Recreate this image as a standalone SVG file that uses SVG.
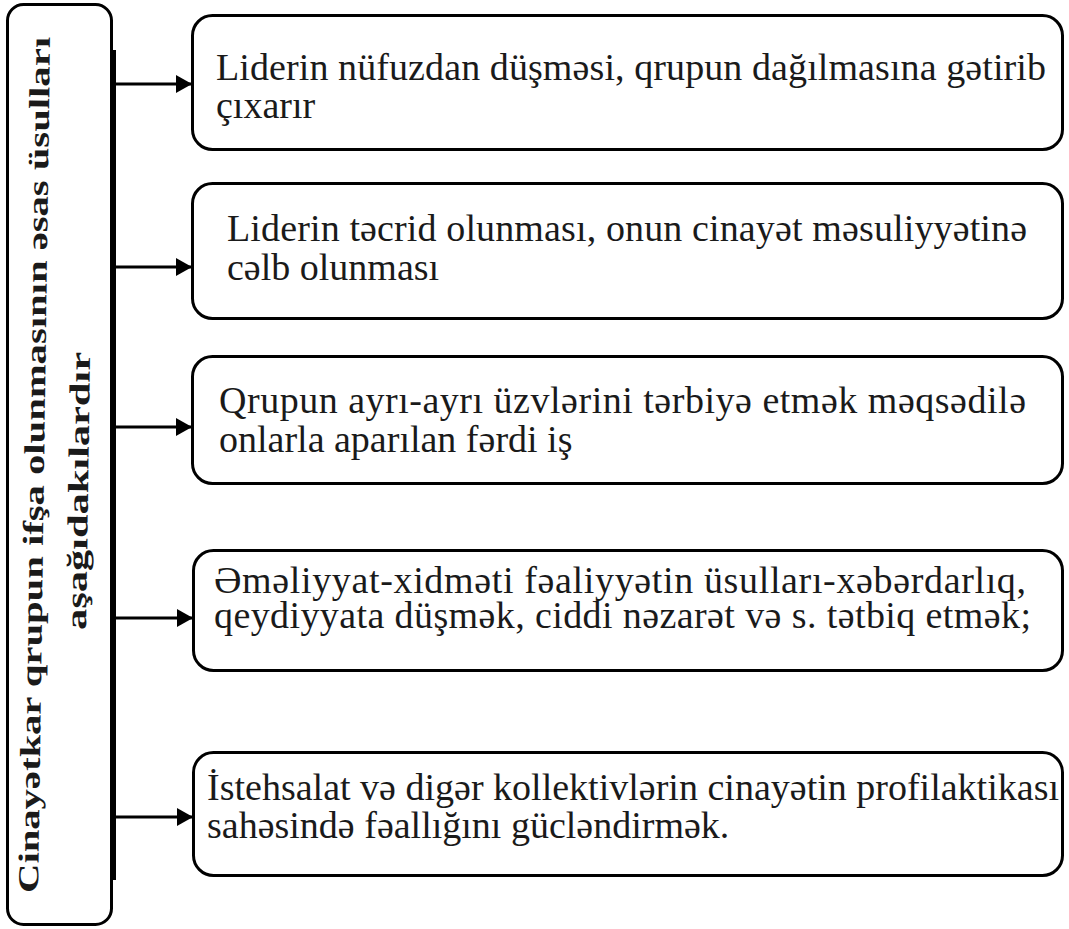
<svg xmlns="http://www.w3.org/2000/svg" width="1069" height="929" viewBox="0 0 1069 929">
<defs>
<style>
.box{fill:#fff;stroke:#000;stroke-width:3}
.t{font-family:"Liberation Serif","Times New Roman",serif;font-size:38px;fill:#1a1a1a}
.v{font-family:"Liberation Serif","Times New Roman",serif;font-size:29px;font-weight:bold;fill:#1a1a1a}
.c{stroke:#000;stroke-width:3;fill:none}
</style>
<marker id="ah" markerUnits="userSpaceOnUse" markerWidth="17" markerHeight="18" refX="16" refY="9" orient="auto">
<path d="M0,0 L16,9 L0,18 Z" fill="#000"/>
</marker>
</defs>
<rect width="1069" height="929" fill="#fff"/>
<g id="main">
<rect class="box" x="7.5" y="4.5" width="104" height="920" rx="16"/>
<text class="v" transform="translate(44,465) rotate(-89.2)" text-anchor="middle" textLength="856" lengthAdjust="spacingAndGlyphs">Cinayətkar qrupun ifşa olunmasının əsas üsulları</text>
<text class="v" transform="translate(88,491) rotate(-89.2)" text-anchor="middle" textLength="278" lengthAdjust="spacingAndGlyphs">aşağıdakılardır</text>
</g>
<g id="connectors">
<line class="c" x1="114.5" y1="50" x2="114.5" y2="880"/>
<line class="c" x1="113" y1="84" x2="192" y2="84" marker-end="url(#ah)"/>
<line class="c" x1="113" y1="267" x2="192" y2="267" marker-end="url(#ah)"/>
<line class="c" x1="113" y1="427" x2="192" y2="427" marker-end="url(#ah)"/>
<line class="c" x1="113" y1="618" x2="193" y2="618" marker-end="url(#ah)"/>
<line class="c" x1="113" y1="817" x2="193" y2="817" marker-end="url(#ah)"/>
</g>
<g id="n1">
<rect class="box" x="192.5" y="15.5" width="870" height="134" rx="20"/>
<text class="t" x="216" y="80" textLength="830">Liderin nüfuzdan düşməsi, qrupun dağılmasına gətirib</text>
<text class="t" x="216" y="118">çıxarır</text>
</g>
<g id="n2">
<rect class="box" x="192.5" y="183.5" width="870" height="135" rx="20"/>
<text class="t" x="227" y="241" textLength="800">Liderin təcrid olunması, onun cinayət məsuliyyətinə</text>
<text class="t" x="227" y="280">cəlb olunması</text>
</g>
<g id="n3">
<rect class="box" x="192.5" y="356.5" width="870" height="127" rx="20"/>
<text class="t" x="219" y="413" textLength="807">Qrupun ayrı-ayrı üzvlərini tərbiyə etmək məqsədilə</text>
<text class="t" x="219" y="452">onlarla aparılan fərdi iş</text>
</g>
<g id="n4">
<rect class="box" x="193.5" y="550.5" width="869" height="120" rx="20"/>
<text class="t" x="214" y="593" textLength="812">Əməliyyat-xidməti fəaliyyətin üsulları-xəbərdarlıq,</text>
<text class="t" x="214" y="628" textLength="817">qeydiyyata düşmək, ciddi nəzarət və s. tətbiq etmək;</text>
</g>
<g id="n5">
<rect class="box" x="193.5" y="752.5" width="869" height="123" rx="20"/>
<text class="t" x="207" y="800" textLength="852">İstehsalat və digər kollektivlərin cinayətin profilaktikası</text>
<text class="t" x="207" y="838">sahəsində fəallığını gücləndirmək.</text>
</g>
</svg>
